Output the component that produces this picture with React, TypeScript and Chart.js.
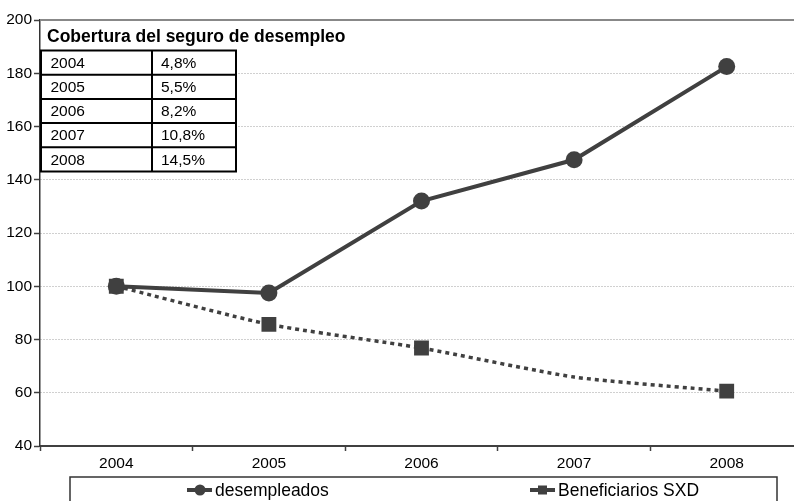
import React, { useEffect, useRef } from "react";
import { Chart, registerables } from "chart.js";

Chart.register(...registerables);

const years = ["2004", "2005", "2006", "2007", "2008"];
const desempleados = [100, 97.5, 132, 147.5, 182.5];
const beneficiarios = [100, 85.7, 76.8, 65.9, 60.6];
const seriesLabels = ["desempleados", "Beneficiarios SXD"];
const yMin = 40;
const yMax = 200;
const yStep = 20;
const tableTitle = "Cobertura del seguro de desempleo";
const tableYears = ["2004", "2005", "2006", "2007", "2008"];
const tableCoverage = ["4,8%", "5,5%", "8,2%", "10,8%", "14,5%"];

const FONT = "'Liberation Sans', Arial, sans-serif";
const DARK = "#404040";

const overlayPlugin = {
  id: "overlay",
  afterDraw(chart: any) {
    const { ctx, chartArea } = chart;
    ctx.save();
    // top border
    ctx.strokeStyle = "#888888";
    ctx.lineWidth = 2;
    ctx.beginPath();
    ctx.moveTo(chartArea.left, chartArea.top);
    ctx.lineTo(chart.width, chartArea.top);
    ctx.stroke();

    // table
    const left = chartArea.left + 1;
    const mid = left + 111;
    const right = left + 195;
    const top = chartArea.top + 30.5;
    const rowH = 24.2;
    ctx.fillStyle = "#000";
    ctx.font = `bold 17.5px ${FONT}`;
    ctx.textBaseline = "alphabetic";
    ctx.textAlign = "left";
    ctx.fillText(tableTitle, left + 6, chartArea.top + 21.5);

    ctx.fillStyle = "#fff";
    ctx.fillRect(left, top, right - left, rowH * tableYears.length);
    ctx.strokeStyle = "#000";
    ctx.lineWidth = 2;
    ctx.strokeRect(left, top, right - left, rowH * tableYears.length);
    ctx.beginPath();
    ctx.moveTo(mid, top);
    ctx.lineTo(mid, top + rowH * tableYears.length);
    for (let i = 1; i < tableYears.length; i++) {
      ctx.moveTo(left, top + rowH * i);
      ctx.lineTo(right, top + rowH * i);
    }
    ctx.stroke();
    ctx.fillStyle = "#000";
    ctx.font = `15.5px ${FONT}`;
    ctx.textBaseline = "middle";
    for (let i = 0; i < tableYears.length; i++) {
      const cy = top + rowH * i + rowH / 2 + 1;
      ctx.fillText(tableYears[i], left + 9.5, cy);
      ctx.fillText(tableCoverage[i], mid + 9, cy);
    }

    // legend
    const lx = 70;
    const ly = 477;
    ctx.strokeStyle = "#333";
    ctx.lineWidth = 1.5;
    ctx.strokeRect(lx, ly, 707, 40);
    const cy = 490;
    ctx.strokeStyle = DARK;
    ctx.fillStyle = DARK;
    ctx.lineWidth = 4;
    ctx.beginPath();
    ctx.moveTo(187, cy);
    ctx.lineTo(212, cy);
    ctx.stroke();
    ctx.beginPath();
    ctx.arc(200, cy, 5.5, 0, Math.PI * 2);
    ctx.fill();
    ctx.beginPath();
    ctx.moveTo(530, cy);
    ctx.lineTo(555, cy);
    ctx.stroke();
    ctx.fillRect(538, cy - 4.5, 9, 9);
    ctx.fillStyle = "#000";
    ctx.font = `17.5px ${FONT}`;
    ctx.textBaseline = "middle";
    ctx.fillText(seriesLabels[0], 215, cy + 1);
    ctx.fillText(seriesLabels[1], 558, cy + 1);
    ctx.restore();
  },
};

export default function App() {
  const ref = useRef<HTMLCanvasElement | null>(null);
  useEffect(() => {
    if (!ref.current) return;
    Chart.defaults.font.family = FONT;
    const chart = new Chart(ref.current, {
      type: "line",
      data: {
        labels: years,
        datasets: [
          {
            label: seriesLabels[0],
            data: desempleados,
            borderColor: DARK,
            backgroundColor: DARK,
            borderWidth: 4,
            pointStyle: "circle",
            pointRadius: 8.5,
            pointBorderWidth: 0,
            pointBackgroundColor: DARK,
            tension: 0,
          },
          {
            label: seriesLabels[1],
            data: beneficiarios,
            borderColor: DARK,
            backgroundColor: DARK,
            borderWidth: 3.5,
            borderDash: [4, 4],
            pointStyle: "rect",
            pointRadius: [10.5, 10.5, 10.5, 0, 10.5],
            pointBorderWidth: 0,
            pointBackgroundColor: DARK,
            tension: 0.2,
          },
        ],
      },
      options: {
        animation: false,
        responsive: false,
        maintainAspectRatio: false,
        layout: { autoPadding: false, padding: { top: 20, right: 0, left: 0, bottom: 0 } },
        plugins: {
          legend: { display: false },
          tooltip: { enabled: false },
        },
        scales: {
          x: {
            offset: true,
            afterFit: (scale: any) => {
              scale.height = 55;
            },
            grid: {
              offset: true,
              drawOnChartArea: false,
              drawTicks: true,
              tickLength: 5,
              tickColor: DARK,
              tickWidth: 1.5,
            },
            border: { display: true, color: DARK, width: 2 },
            ticks: {
              color: "#000",
              font: { size: 15.5 },
              padding: 3,
              maxRotation: 0,
            },
          },
          y: {
            min: yMin,
            max: yMax,
            afterFit: (scale: any) => {
              scale.width = 40;
            },
            ticks: {
              stepSize: yStep,
              color: "#000",
              font: { size: 15.5 },
              padding: 2,
            },
            grid: {
              color: "#a0a0a0",
              lineWidth: 1,
              tickLength: 6,
              tickColor: DARK,
              tickWidth: 1.5,
              tickBorderDash: [],
            },
            border: { display: true, color: "#333", width: 1.5, dash: [1, 2] },
          },
        },
      },
      plugins: [overlayPlugin],
    });
    return () => chart.destroy();
  }, []);
  return (
    <div
      style={{
        position: "absolute",
        left: 0,
        top: 0,
        width: 794,
        height: 501,
        overflow: "hidden",
        background: "#fff",
      }}
    >
      <canvas ref={ref} width={803} height={501} style={{ display: "block" }} />
    </div>
  );
}
